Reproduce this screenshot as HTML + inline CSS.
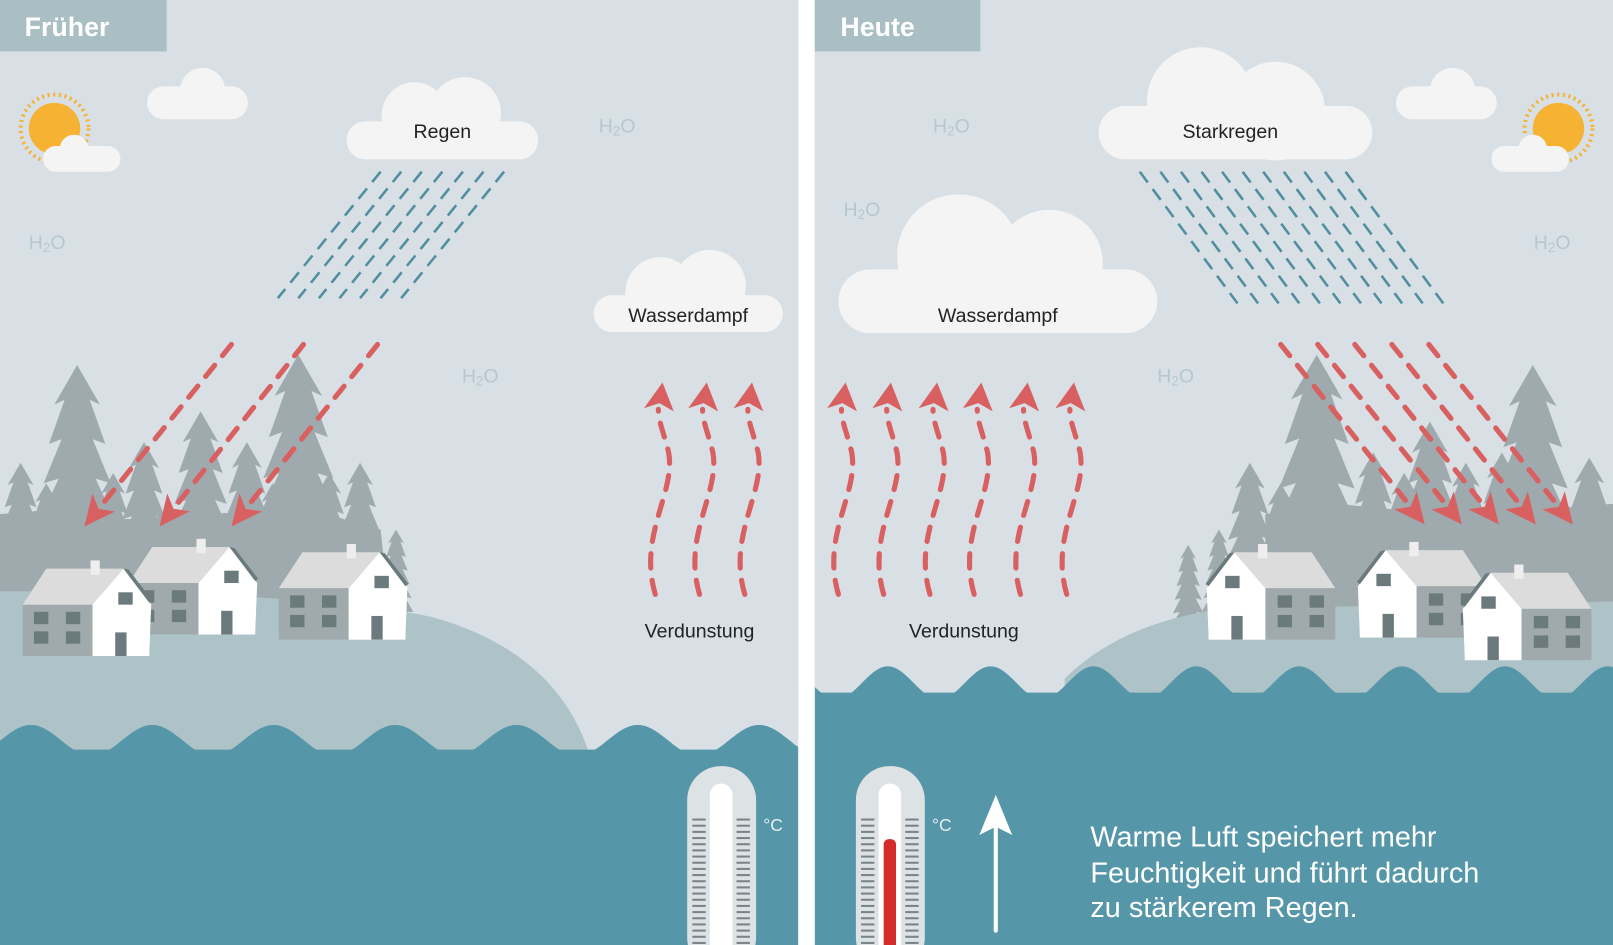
<!DOCTYPE html>
<html><head><meta charset="utf-8"><style>
html,body{margin:0;padding:0;background:#fff;overflow:hidden}
svg{display:block}
text{font-family:"Liberation Sans",sans-serif}
</style></head><body>
<svg id="s" width="1613" height="945" viewBox="0 0 1568 919" preserveAspectRatio="none" xmlns="http://www.w3.org/2000/svg">
<rect x="0" y="0" width="1568" height="919" fill="#d8e0e5"/>
<g id="bg"></g>
<rect x="776" y="0" width="16" height="919" fill="#fff"/>
<rect x="0" y="0" width="162" height="50" fill="#a9bfc4"/>
<text x="24" y="35" font-size="26" font-weight="bold" fill="#fff">Früher</text>
<rect x="792" y="0" width="161" height="50" fill="#a9bfc4"/>
<text x="817" y="35" font-size="26" font-weight="bold" fill="#fff">Heute</text>
<g fill="#b5c8cd" font-size="19">
<text x="28" y="242">H<tspan font-size="13" dy="3">2</tspan><tspan dy="-3">O</tspan></text>
<text x="582" y="129">H<tspan font-size="13" dy="3">2</tspan><tspan dy="-3">O</tspan></text>
<text x="449" y="372">H<tspan font-size="13" dy="3">2</tspan><tspan dy="-3">O</tspan></text>
<text x="907" y="129">H<tspan font-size="13" dy="3">2</tspan><tspan dy="-3">O</tspan></text>
<text x="820" y="210">H<tspan font-size="13" dy="3">2</tspan><tspan dy="-3">O</tspan></text>
<text x="1125" y="372">H<tspan font-size="13" dy="3">2</tspan><tspan dy="-3">O</tspan></text>
<text x="1491" y="242">H<tspan font-size="13" dy="3">2</tspan><tspan dy="-3">O</tspan></text>
</g>
<g fill="#f5b233">
<circle cx="53" cy="125" r="25"/>
<circle cx="53" cy="125" r="33" fill="none" stroke="#f5b233" stroke-width="4" stroke-dasharray="2 3.5"/>
<circle cx="1515" cy="125" r="25"/>
<circle cx="1515" cy="125" r="33" fill="none" stroke="#f5b233" stroke-width="4" stroke-dasharray="2 3.5"/>
</g>
<g fill="#f4f4f4">
<circle cx="72" cy="145" r="14"/><rect x="42" y="142" width="75" height="25" rx="12"/>
<circle cx="1490" cy="145" r="14"/><rect x="1450" y="142" width="75" height="25" rx="12"/>
<circle cx="197" cy="88" r="22"/><rect x="143" y="84" width="98" height="32" rx="16"/>
<circle cx="1412" cy="88" r="22"/><rect x="1357" y="84" width="98" height="32" rx="16"/>
<circle cx="403" cy="112" r="32"/><circle cx="452" cy="110" r="35"/><rect x="337" y="118" width="186" height="37" rx="18"/>
<circle cx="642" cy="284" r="34"/><circle cx="690" cy="278" r="35"/><rect x="577" y="287" width="184" height="36" rx="18"/>
<circle cx="1167" cy="98" r="52"/><circle cx="1240" cy="108" r="48"/><rect x="1068" y="103" width="266" height="52" rx="26"/>
<circle cx="932" cy="249" r="60"/><circle cx="1020" cy="256" r="52"/><rect x="815" y="262" width="310" height="62" rx="31"/>
</g>
<g font-size="19" fill="#222">
<text x="430" y="134" text-anchor="middle">Regen</text>
<text x="669" y="313" text-anchor="middle">Wasserdampf</text>
<text x="1196" y="134" text-anchor="middle">Starkregen</text>
<text x="970" y="313" text-anchor="middle">Wasserdampf</text>
<text x="680" y="620" text-anchor="middle">Verdunstung</text>
<text x="937" y="620" text-anchor="middle">Verdunstung</text>
</g>
<g id="fg"></g>
<text x="1060" y="823" font-size="28" fill="#fff">Warme Luft speichert mehr</text>
<text x="1060" y="858" font-size="28" fill="#fff">Feuchtigkeit und führt dadurch</text>
<text x="1060" y="892" font-size="28" fill="#fff">zu stärkerem Regen.</text>
</svg>
<script>
var NS="http://www.w3.org/2000/svg",bg=document.getElementById('bg'),fg=document.getElementById('fg');
function el(p,t,a){var e=document.createElementNS(NS,t);for(var k in a)e.setAttribute(k,a[k]);p.appendChild(e);return e;}
function tree(p,cx,top,h){var w=h*0.42,n=6,pts=[[cx,top]];for(var i=1;i<=n;i++){var y=top+h*i/n,ww=w*(0.35+0.65*i/n)/2;pts.push([cx+ww,y]);if(i<n)pts.push([cx+ww*0.55,y-h*0.02]);}
var L=[];for(var j=pts.length-1;j>=1;j--)L.push([2*cx-pts[j][0],pts[j][1]]);el(p,'polygon',{points:pts.concat(L).map(function(q){return q.join(',')}).join(' '),fill:'#9eaaad'});}
function wave(p,x0,x1,base,amp,per,ph,bot){var d='M'+x0+','+bot+' L'+x0+','+base;for(var x=x0;x<=x1;x+=2){var y=base-amp*Math.cos((x-ph)*2*Math.PI/per);y=Math.min(y,base+amp*0.6);d+=' L'+x+','+y.toFixed(1);}d+=' L'+x1+','+bot+' Z';el(p,'path',{d:d,fill:'#5596a9'});}
el(bg,'path',{d:'M0,500 L60,495 L120,505 L200,500 L300,495 L370,515 L380,610 L0,610 Z',fill:'#9eaaad'});
[[20,450,130],[45,470,110],[75,355,230],[110,460,120],[140,430,150],[195,400,180],[240,430,150],[265,470,110],[290,345,240],[320,460,120],[350,450,130],[385,515,80]].forEach(function(t){tree(bg,t[0],t[1],t[2]);});
el(bg,'path',{d:'M0,575 Q300,575 420,600 Q545,635 575,740 L0,740 Z',fill:'#adc3c7'});
el(bg,'path',{d:'M1230,500 L1300,490 L1400,500 L1500,495 L1568,490 L1568,620 L1230,620 Z',fill:'#9eaaad'});
[[1155,530,80],[1185,515,80],[1215,450,150],[1245,470,130],[1280,345,260],[1335,440,150],[1365,460,130],[1390,410,180],[1425,450,140],[1460,440,150],[1490,355,240],[1545,445,150]].forEach(function(t){tree(bg,t[0],t[1],t[2]);});
el(bg,'path',{d:'M1035,660 Q1090,605 1190,592 L1568,585 L1568,700 L1035,700 Z',fill:'#adc3c7'});
wave(bg,0,776,720,15,118,30,919);
wave(bg,792,1568,664,16,100,863,919);
function house(p,x,y,flip){var g=el(p,'g',{transform:'translate('+x+','+y+')'+(flip?' scale(-1,1)':'')});
el(g,'rect',{x:0,y:35,width:70,height:50,fill:'#a0aaad'});
el(g,'rect',{x:68,y:35,width:55,height:50,fill:'#fff'});
el(g,'polygon',{points:'0,35 23,0 98,0 68,35',fill:'#dcdcdc'});
el(g,'polygon',{points:'68,35 98,0 125,35 123,85 68,85',fill:'#fff'});
el(g,'polygon',{points:'98,0 103,1 126,31 123,33',fill:'#6a7a7d'});
el(g,'rect',{x:66,y:-8,width:9,height:14,fill:'#eee'});
[[11,42],[42,42],[11,61],[42,61],[93,23]].forEach(function(w){el(g,'rect',{x:w[0],y:w[1],width:14,height:12,fill:'#6a7a7d'});});
el(g,'rect',{x:90,y:62,width:11,height:23,fill:'#6a7a7d'});}
house(fg,125,532,false);house(fg,22,553,false);house(fg,271,537,false);
house(fg,1298,537,true);house(fg,1445,535,true);house(fg,1547,557,true);
for(var i=0;i<7;i++){var x=370+i*20;el(fg,'line',{x1:x,y1:167,x2:x-100,y2:290,stroke:'#4f8fa0','stroke-width':2.5,'stroke-dasharray':'13 8'});}
for(var i=0;i<11;i++){var x=1108+i*20;el(fg,'line',{x1:x,y1:167,x2:x+95,y2:295,stroke:'#4f8fa0','stroke-width':2.5,'stroke-dasharray':'13 8'});}
function arrow(x1,y1,x2,y2){var dx=x2-x1,dy=y2-y1,l=Math.sqrt(dx*dx+dy*dy),ux=dx/l,uy=dy/l;var bx=x2-ux*30,by=y2-uy*30;
el(fg,'line',{x1:x1,y1:y1,x2:bx,y2:by,stroke:'#d96060','stroke-width':5,'stroke-linecap':'round','stroke-dasharray':'14 12'});
el(fg,'polygon',{points:x2+','+y2+' '+(bx-uy*14)+','+(by+ux*14)+' '+(x2-ux*22)+','+(y2-uy*22)+' '+(bx+uy*14)+','+(by-ux*14),fill:'#d96060'});}
arrow(225,335,82,512);arrow(295,335,155,512);arrow(367,335,225,512);
for(var i=0;i<5;i++){var x=1245+i*36;arrow(x,335,x+140,510);}
function evap(x){var d='M'+(x-8)+',578 C'+(x-25)+',520 '+(x+12)+',480 '+(x+5)+',440 C'+(x)+',420 '+(x-5)+',410 '+(x-5)+',398';
el(fg,'path',{d:d,fill:'none',stroke:'#d96060','stroke-width':5,'stroke-linecap':'round','stroke-dasharray':'14 12'});
el(fg,'polygon',{points:(x-1)+',372 '+(x+10)+',400 '+(x-4)+',392 '+(x-19)+',397',fill:'#d96060'});}
[645,688,732,823,867,912,955,1000,1045].forEach(function(x){evap(x);});
function therm(x,red){el(fg,'rect',{x:x,y:745,width:67,height:200,rx:33,fill:'#dde2e4'});
el(fg,'rect',{x:x+22,y:762,width:22,height:200,rx:11,fill:'#fff'});
for(var y=797;y<919;y+=6){el(fg,'line',{x1:x+5,y1:y,x2:x+18,y2:y,stroke:'#7a8488','stroke-width':2});el(fg,'line',{x1:x+48,y1:y,x2:x+61,y2:y,stroke:'#7a8488','stroke-width':2});}
if(red)el(fg,'rect',{x:x+27,y:816,width:12,height:110,rx:5,fill:'#d42a2a'});
el(fg,'text',{x:x+74,y:808,'font-size':17,fill:'#e8eef0'}).textContent='°C';}
therm(668,false);therm(832,true);
el(fg,'line',{x1:968,y1:905,x2:968,y2:800,stroke:'#fff','stroke-width':4,'stroke-linecap':'round'});
el(fg,'polygon',{points:'968,773 984,812 968,804 952,812',fill:'#fff'});
</script>
</body></html>
